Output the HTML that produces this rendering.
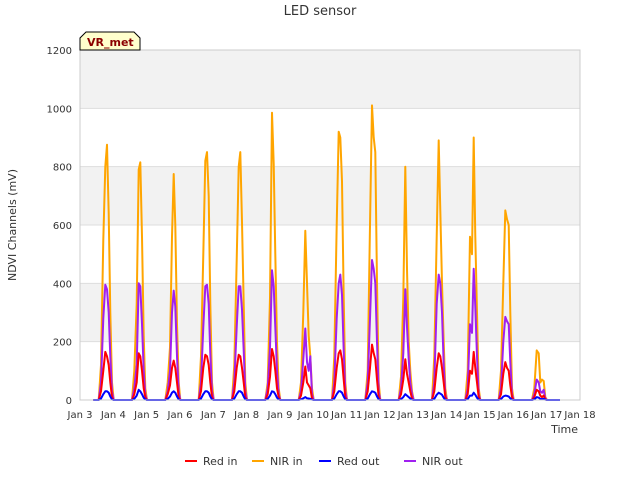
<!DOCTYPE html>
<html><head><meta charset="utf-8"><style>
body{margin:0;background:#fff;font-family:"Liberation Sans","DejaVu Sans",sans-serif}
svg text{font-family:"DejaVu Sans","Liberation Sans",sans-serif}
</style></head><body>
<svg id="chart" width="640" height="480">
<text x="320" y="15" text-anchor="middle" font-size="13" fill="#333">LED sensor</text>
<g id="grid"></g>
<g id="series"></g>
<g id="axes"></g>
<g>
<path d="M80,50 L80,38 L86,32 L134,32 L140,38 L140,50 Z" fill="#ffffcc" stroke="#000"/>
<text x="87" y="46" font-size="11" font-weight="bold" fill="#8b0000">VR_met</text>
</g>
<text x="16" y="225" font-size="11" fill="#333" transform="rotate(-90 16 225)" text-anchor="middle">NDVI Channels (mV)</text>
<text x="578" y="433" font-size="11" fill="#333" text-anchor="end">Time</text>
<g id="legend"></g>
</svg>
<script>
const dayStarts=[3,4,5,6,7,8,9,10,11,12,13,14,15,16];
const sampleOffsets=[0.56,0.63,0.70,0.76,0.81,0.86,0.91,0.96,1.01];
const nirIn=[
[0,120,550,800,875,640,300,60,0],[0,100,330,790,815,560,220,40,0],[0,60,180,560,775,600,260,60,0],
[0,150,500,820,850,700,330,60,0],[0,120,480,800,850,610,330,60,0],[0,60,350,985,810,500,200,40,0],
[0,60,300,580,400,220,150,40,0],[0,150,600,920,900,750,350,60,0],[0,100,600,1010,900,850,400,60,0],
[0,80,350,800,450,200,100,30,0],[0,150,560,890,650,400,200,40,0],[0,100,560,500,900,560,300,40,0],
[0,100,400,650,620,600,300,40,0],[0,40,170,160,60,70,65,10,0]];
const nirOut=[
[0,60,280,395,380,300,150,30,0],[0,40,120,400,390,260,100,20,0],[0,30,100,300,375,320,150,30,0],
[0,60,250,390,395,330,160,30,0],[0,60,250,390,390,310,170,30,0],[0,40,180,445,390,250,100,20,0],
[0,30,140,245,130,100,150,20,0],[0,60,280,400,430,360,170,30,0],[0,60,280,480,450,400,200,30,0],
[0,40,160,380,250,140,60,20,0],[0,60,330,430,400,300,120,20,0],[0,40,260,230,450,320,150,20,0],
[0,40,200,285,270,260,130,20,0],[0,20,70,60,30,25,35,5,0]];
const redIn=[
[0,30,100,165,150,120,60,10,0],[0,20,60,160,150,100,40,10,0],[0,20,50,110,135,110,60,10,0],
[0,30,110,155,150,120,60,10,0],[0,30,110,155,150,110,60,10,0],[0,20,80,175,150,100,40,10,0],
[0,15,60,115,60,50,40,5,0],[0,30,110,160,170,140,70,10,0],[0,30,110,190,160,140,70,10,0],
[0,20,70,140,90,60,30,5,0],[0,30,110,160,150,110,60,10,0],[0,20,100,90,165,110,60,10,0],
[0,20,90,130,110,100,50,10,0],[0,10,35,30,15,10,15,2,0]];
const redOut=[
[0,5,20,30,30,25,12,2,0],[0,4,15,35,30,20,8,2,0],[0,4,12,25,30,25,12,2,0],
[0,5,20,30,30,25,12,2,0],[0,5,20,30,30,25,12,2,0],[0,4,15,30,28,20,8,2,0],
[0,2,6,10,6,5,4,1,0],[0,5,20,30,30,25,12,2,0],[0,5,20,30,28,25,12,2,0],
[0,3,10,20,15,10,5,1,0],[0,4,18,25,22,18,8,1,0],[0,3,15,15,25,18,8,1,0],
[0,3,12,15,14,12,6,1,0],[0,2,10,8,4,3,4,1,0]];
const yTicks=[0,200,400,600,800,1000,1200];
const xTickLabels=["Jan 3","Jan 4","Jan 5","Jan 6","Jan 7","Jan 8","Jan 9","Jan 10","Jan 11","Jan 12","Jan 13","Jan 14","Jan 15","Jan 16","Jan 17","Jan 18"];
const xMin=3,xMax=18,yMin=0,yMax=1200,L=80,R=580,T=50,B=400;
const xs=d=>L+(d-xMin)/(xMax-xMin)*(R-L);
const ys=v=>B-(v-yMin)/(yMax-yMin)*(B-T);
const NS="http://www.w3.org/2000/svg";
function mk(tag,attrs,parent){const e=document.createElementNS(NS,tag);for(const k in attrs)e.setAttribute(k,attrs[k]);parent.appendChild(e);return e;}
const grid=document.getElementById('grid');
const bg=mk('rect',{x:L,y:T,width:R-L,height:B-T,fill:'#fff',stroke:'#ddd'},grid);


for(let i=0;i<yTicks.length-1;i++){
  if(i%2===1){const r=mk('rect',{x:L,y:ys(yTicks[i+1]),width:R-L,height:ys(yTicks[i])-ys(yTicks[i+1]),fill:'#f2f2f2'},grid);
  
  }
}
const axes=document.getElementById('axes');
yTicks.forEach(v=>{
  const l=mk('line',{x1:L,x2:R,y1:ys(v),y2:ys(v),stroke:'#ddd'},grid);
  
  
  const t=mk('text',{x:L-8,y:ys(v)+4,'text-anchor':'end','font-size':'10',fill:'#333'},axes);
  t.textContent=v;
  
  
});
xTickLabels.forEach((s,i)=>{
  const t=mk('text',{x:xs(xMin+i),y:B+18,'text-anchor':'middle','font-size':'10',fill:'#333'},axes);
  t.textContent=s;
  
  
});
mk('rect',{x:L,y:T,width:R-L,height:B-T,fill:'none',stroke:'#ccc'},axes);
function build(series){
  const pts=[[xs(3.4),ys(0)]];
  dayStarts.forEach((d,i)=>sampleOffsets.forEach((o,j)=>pts.push([xs(d+o),ys(series[i][j])])));
  pts.push([xs(17.4),ys(0)]);
  return 'M'+pts.map(p=>p[0].toFixed(1)+','+p[1].toFixed(1)).join('L');
}
const sg=document.getElementById('series');
[[nirIn,'#ffa500','nir-in-line'],[nirOut,'#a020f0','nir-out-line'],[redIn,'#ff0000','red-in-line'],[redOut,'#0000ff','red-out-line']].forEach(([s,c,n])=>{
  const p=mk('path',{d:build(s),fill:'none',stroke:c,'stroke-width':'2','stroke-linejoin':'round'},sg);
  
  
});
const lg=document.getElementById('legend');
[["Red in","#ff0000",185],["NIR in","#ffa500",252],["Red out","#0000ff",319],["NIR out","#a020f0",404]].forEach(([s,c,x])=>{
  const g=mk('g',{},lg);
  
  
  mk('line',{x1:x,x2:x+12,y1:461,y2:461,stroke:c,'stroke-width':'2'},g);
  const t=mk('text',{x:x+18,y:465,'font-size':'11',fill:'#333'},g);t.textContent=s;
});
</script>
</body></html>
